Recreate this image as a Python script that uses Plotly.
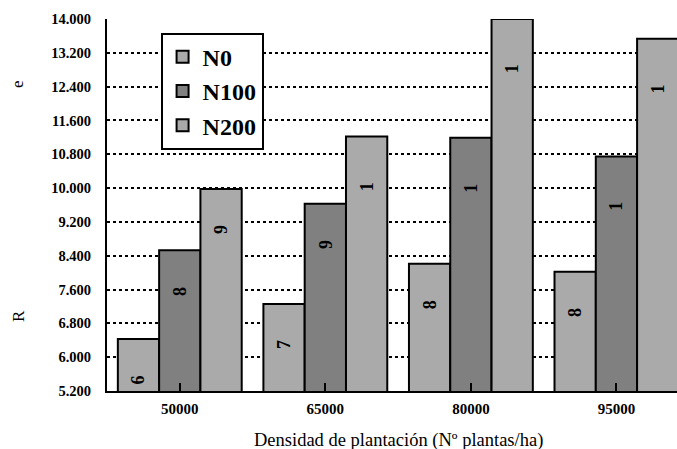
import plotly.graph_objects as go

categories = ["50000", "65000", "80000", "95000"]
series_names = ["N0", "N100", "N200"]
n0 = [6430, 7260, 8210, 8020]
n100 = [8530, 9630, 11190, 10750]
n200 = [9980, 11220, 14000, 13530]
colors = ["#AAAAAA", "#808080", "#AAAAAA"]
y_ticks = list(range(5200, 14001, 800))

serif = "Liberation Serif"
bargap = 0.149
series = [n0, n100, n200]

fig = go.Figure()
for k, (name, vals) in enumerate(zip(series_names, series)):
    fig.add_trace(go.Bar(
        x=categories, y=vals, name=name, legendgroup=name,
        marker=dict(color=colors[k], line=dict(color="black", width=2)),
    ))

# in-bar labels (first digit of each value, rotated)
w = (1 - bargap) / 3
annotations = []
for k, vals in enumerate(series):
    for i, v in enumerate(vals):
        s = str(int(v))
        annotations.append(dict(
            x=i + (k - 1) * w, y=v, xref="x", yref="y",
            text="<b>" + s[0] + "</b>", showarrow=False, textangle=-90,
            yshift=-(9 * len(s) + 5),
            font=dict(family=serif, size=18, color="black"),
        ))

# axis titles
annotations.append(dict(x=(398 - 107) / 570, y=(391 - 440) / 372, xref="paper", yref="paper",
                        text="Densidad de plantación (Nº plantas/ha)", showarrow=False,
                        xanchor="center", yanchor="middle",
                        font=dict(family=serif, size=18.5, color="black")))
annotations.append(dict(x=(18 - 107) / 570, y=(391 - 316) / 372, xref="paper", yref="paper",
                        text="R", showarrow=False, textangle=-90,
                        xanchor="center", yanchor="middle",
                        font=dict(family=serif, size=17, color="black")))
annotations.append(dict(x=(18 - 107) / 570, y=(391 - 84) / 372, xref="paper", yref="paper",
                        text="e", showarrow=False, textangle=-90,
                        xanchor="center", yanchor="middle",
                        font=dict(family=serif, size=17, color="black")))

fig.update_layout(
    width=677, height=449,
    margin=dict(l=107, r=0, t=19, b=58),
    paper_bgcolor="white", plot_bgcolor="white",
    barmode="group", bargap=bargap, bargroupgap=0,
    separators=",.",
    annotations=annotations,
    font=dict(family=serif),
    legend=dict(x=0.094, y=0.963, xanchor="left", yanchor="top",
                bgcolor="white", bordercolor="black", borderwidth=2,
                font=dict(family=serif, size=24, color="black", weight="bold"),
                tracegroupgap=0),
    xaxis=dict(type="category", range=[-0.5, 3.416],
               showline=True, linecolor="black", linewidth=2,
               ticks="inside", ticklen=8, tickwidth=2, tickcolor="black",
               tickfont=dict(family=serif, size=15, color="black", weight="bold"),
               ticklabelstandoff=3, showgrid=False, zeroline=False),
    yaxis=dict(range=[5200, 14000], tickvals=y_ticks, tickformat=",d",
               showline=True, linecolor="black", linewidth=2,
               showgrid=True, gridcolor="black", gridwidth=1.5, griddash="dot",
               tickfont=dict(family=serif, size=14.5, color="black", weight="bold"),
               ticklabelstandoff=11, zeroline=False),
)

fig.write_html("out.html")
